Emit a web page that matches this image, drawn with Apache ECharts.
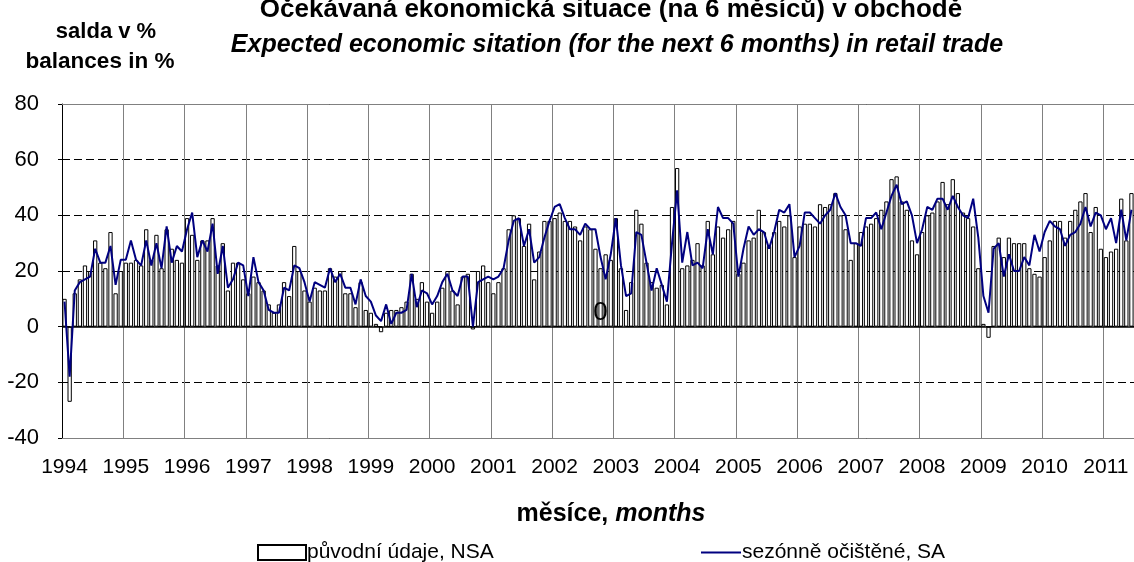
<!DOCTYPE html>
<html>
<head>
<meta charset="utf-8">
<script src="https://cdn.jsdelivr.net/npm/echarts@6/dist/echarts.min.js"></script>
<style>
  html, body { margin: 0; background: #fff; }
  #chart { width: 1134px; height: 562px; }
</style>
</head>
<body>
<div id="chart"></div>
<script>
// years on the axis, data runs Jan 1994 .. Jun 2011
const years = [1994, 1995, 1996, 1997, 1998, 1999, 2000, 2001, 2002, 2003, 2004, 2005, 2006, 2007, 2008, 2009, 2010, 2011];

// original data (NSA), one row per year
const nsa = [
  10, -27, 12, 17, 22, 20, 31, 23, 21, 34, 12, 20,
  23, 23, 24, 22, 35, 24, 33, 21, 35, 28, 24, 23,
  39, 33, 24, 31, 31, 39, 22, 30, 13, 23, 23, 17,
  12, 18, 16, 13, 8, 5, 8, 16, 11, 29, 20, 13,
  9, 14, 13, 13, 21, 18, 20, 12, 12, 7, 16, 6,
  5, 1, -2, 5, 6, 6, 7, 9, 19, 10, 16, 9,
  5, 9, 14, 20, 13, 8, 18, 19, -1, 20, 22, 16,
  12, 16, 21, 35, 40, 39, 29, 37, 17, 27, 38, 38,
  39, 41, 38, 38, 36, 31, 36, 35, 28, 21, 26, 24,
  39, 21, 6, 16, 42, 37, 23, 16, 14, 15, 8, 43,
  57, 21, 22, 24, 30, 22, 38, 26, 36, 32, 35, 38,
  19, 23, 31, 32, 42, 34, 29, 34, 38, 36, 40, 25,
  36, 37, 37, 36, 44, 43, 44, 48, 40, 35, 24, 30,
  34, 36, 37, 39, 42, 45, 53, 54, 45, 42, 31, 26,
  34, 40, 41, 45, 52, 44, 53, 48, 41, 39, 36, 21,
  1, -4, 29, 32, 25, 32, 30, 30, 30, 21, 19, 18,
  25, 31, 38, 38, 32, 38, 42, 45, 48, 34, 43, 28,
  25, 27, 28, 46, 31, 48
];

// seasonally adjusted (SA)
const sa = [
  9, -18, 13, 16, 17, 18, 28, 23, 23, 29, 15, 24,
  24, 31, 24, 22, 31, 22, 30, 21, 36, 23, 29, 27,
  35, 41, 25, 31, 27, 37, 19, 29, 14, 17, 23, 22,
  11, 25, 16, 13, 6, 5, 5, 14, 13, 22, 21, 16,
  9, 16, 15, 14, 21, 16, 19, 14, 14, 8, 17, 11,
  9, 4, 2, 8, 1, 5, 5, 6, 19, 7, 13, 12,
  8, 11, 16, 19, 13, 11, 18, 18, 0, 16, 17, 18,
  17, 18, 21, 31, 38, 39, 29, 35, 23, 25, 32, 38,
  43, 44, 39, 35, 35, 33, 37, 35, 35, 25, 17, 26,
  39, 22, 11, 12, 34, 33, 23, 13, 21, 15, 9, 30,
  49, 23, 34, 22, 23, 21, 35, 26, 43, 39, 39, 37,
  18, 28, 36, 33, 35, 34, 28, 34, 42, 41, 44, 25,
  29, 41, 41, 39, 37, 40, 42, 48, 43, 40, 30, 30,
  29, 39, 39, 41, 35, 41, 47, 51, 44, 45, 40, 30,
  35, 43, 42, 46, 46, 42, 47, 43, 40, 39, 46, 32,
  11, 5, 28, 30, 18, 26, 20, 20, 25, 22, 33, 27,
  34, 38, 36, 35, 29, 33, 34, 37, 43, 36, 41, 40,
  35, 39, 30, 42, 31, 42
];

const months = [];
years.forEach(y => {
  for (let m = 1; m <= 12; m++) months.push(y + '-' + String(m).padStart(2, '0'));
});
months.length = nsa.length;

const font = 'Liberation Sans, Arial, sans-serif';
const isYearStart = (i) => i % 12 === 0;
const boldText = (size, italic) => ({
  fontSize: size, fontWeight: 'bold', fontStyle: italic ? 'italic' : 'normal', fontFamily: font, color: '#000'
});

const chart = echarts.init(document.getElementById('chart'));
chart.setOption({
  animation: false,
  textStyle: { fontFamily: font, color: '#000' },
  title: [
    { text: 'Očekávaná ekonomická situace (na 6 měsíců) v obchodě', left: 606, top: -8, textAlign: 'center', textStyle: boldText(26) },
    { text: 'Expected economic sitation (for the next 6 months) in retail trade', left: 612, top: 28, textAlign: 'center', textStyle: boldText(25, true) },
    { text: 'salda v %', left: 101, top: 16, textAlign: 'center', textStyle: boldText(22) },
    { text: 'balances in %', left: 95, top: 45, textAlign: 'center', textStyle: boldText(22.5) },
    {
      text: '{b|měsíce, }{i|months}',
      left: 606, top: 497, textAlign: 'center',
      textStyle: { rich: { b: boldText(25), i: boldText(25, true) } }
    }
  ],
  legend: [
    {
      data: [{ name: 'původní údaje, NSA', icon: 'rect' }],
      left: 252, top: 537,
      itemWidth: 48, itemHeight: 15,
      textStyle: { fontSize: 21, fontFamily: font, color: '#000', padding: [0, 0, 0, -4] }
    },
    {
      data: [{ name: 'sezónně očištěné, SA', icon: 'rect' }],
      left: 696, top: 537,
      itemWidth: 40, itemHeight: 2,
      textStyle: { fontSize: 21, fontFamily: font, color: '#000', padding: [0, 0, 0, -4] }
    }
  ],
  grid: { left: 62, top: 104, width: 1075.6, height: 334 },
  xAxis: [
    {
      type: 'category',
      data: months,
      boundaryGap: true,
      axisLine: { onZero: false, lineStyle: { color: '#808080', width: 1 } },
      axisTick: { show: false },
      axisLabel: {
        interval: (i) => isYearStart(i),
        formatter: (v) => v.slice(0, 4),
        fontSize: 21, color: '#000', margin: 19, fontFamily: font
      },
      splitLine: {
        show: true,
        interval: (i) => isYearStart(i) && i > 0,
        lineStyle: { color: '#808080', width: 1 }
      }
    },
    {
      type: 'category',
      data: months,
      position: 'top',
      axisLine: { onZero: false, lineStyle: { color: '#808080', width: 1 } },
      axisTick: { show: false },
      axisLabel: { show: false }
    }
  ],
  yAxis: {
    type: 'value',
    min: -40, max: 80, interval: 20,
    axisLine: { show: true, lineStyle: { color: '#000', width: 1 } },
    axisTick: { show: true, length: 4, lineStyle: { color: '#000' } },
    axisLabel: { fontSize: 22, color: '#000', margin: 23, fontFamily: font },
    splitLine: { lineStyle: { color: '#000', type: [8, 4], width: 1 } }
  },
  series: [
    {
      name: 'původní údaje, NSA',
      type: 'bar',
      data: nsa,
      barWidth: '84%',
      itemStyle: { color: '#fff', borderColor: '#000', borderWidth: 1 },
      markLine: {
        silent: true, symbol: 'none', label: { show: false },
        lineStyle: { color: '#000', type: 'solid', width: 1.5 },
        data: [{ yAxis: 0 }]
      },
      markPoint: {
        symbol: 'rect', symbolSize: 0,
        label: { show: true, formatter: '0', position: 'top', distance: 1, fontSize: 26, color: '#000', fontFamily: font },
        data: [{ coord: [105, 0] }]
      }
    },
    {
      name: 'sezónně očištěné, SA',
      type: 'line',
      data: sa,
      symbol: 'none',
      lineStyle: { color: '#000080', width: 2 },
      itemStyle: { color: '#000080' },
      z: 5
    }
  ]
});
</script>
</body>
</html>
